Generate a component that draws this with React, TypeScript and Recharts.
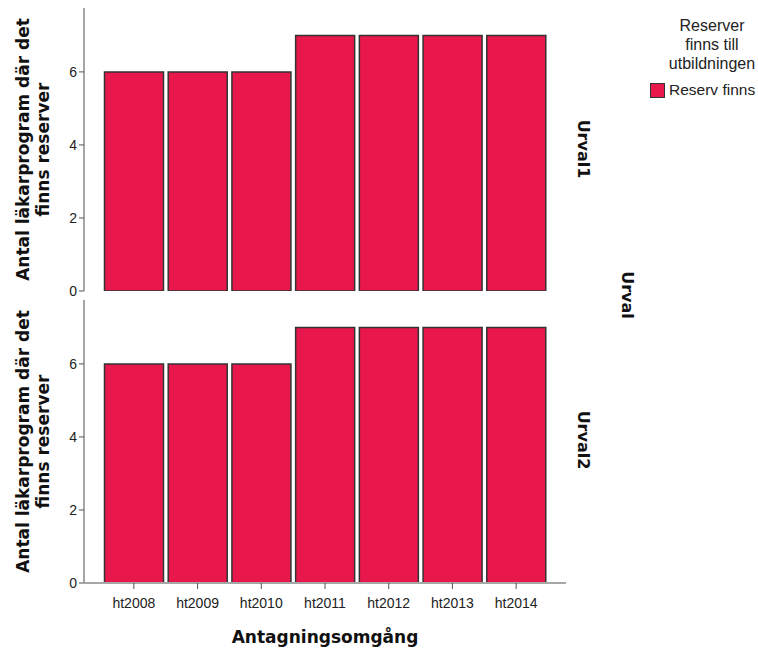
import { BarChart, Bar, XAxis, YAxis } from 'recharts';

const years = ['ht2008', 'ht2009', 'ht2010', 'ht2011', 'ht2012', 'ht2013', 'ht2014'];
const urval1 = [6, 6, 6, 7, 7, 7, 7];
const urval2 = [6, 6, 6, 7, 7, 7, 7];
const yTicks = [0, 2, 4, 6];
const panelNames = ['Urval1', 'Urval2'];

const BAR_FILL = '#E8174C';
const AXIS = '#a6a6a6';
const boldFont = '"DejaVu Sans", sans-serif';
const plainFont = '"Liberation Sans", Arial, sans-serif';

const toRows = (vals: number[]) => years.map((y, i) => ({ year: y, count: vals[i] }));

// two-line rotated y title
const YTitle = (props: any) => {
    const vb = props.viewBox;
    const cy = vb.y + vb.height / 2;
    return (
        <text
            transform={`rotate(-90, 0, ${cy})`}
            x={0}
            y={cy}
            textAnchor="middle"
            fontFamily={boldFont}
            fontWeight="bold"
            fontSize={17}
            fill="#111"
        >
            <tspan x={0} y={cy + 29}>Antal läkarprogram där det</tspan>
            <tspan x={0} y={cy + 49}>finns reserver</tspan>
        </text>
    );
};

function Panel({ vals, top, height, last }: { vals: number[]; top: number; height: number; last: boolean }) {
    return (
        <div style={{ position: 'absolute', left: 0, top }}>
            <BarChart
                width={758}
                height={height}
                data={toRows(vals)}
                margin={{ top: 8, right: 192, bottom: last ? 0 : 9, left: 0 }}
                barCategoryGap={2.5}
            >
                <XAxis
                    dataKey="year"
                    padding={{ left: 18, right: 18 }}
                    height={last ? 66 : 0}
                    tick={last ? { fontSize: 14, fill: '#222', fontFamily: plainFont } : false}
                    tickLine={last ? { stroke: '#555' } : false}
                    tickSize={6}
                    tickMargin={9}
                    axisLine={{ stroke: AXIS, strokeWidth: 2 }}
                    interval={0}
                    label={
                        last
                            ? {
                                  value: 'Antagningsomgång',
                                  position: 'insideBottom',
                                  offset: 6,
                                  fontSize: 17,
                                  fontWeight: 'bold',
                                  fontFamily: boldFont,
                                  fill: '#111',
                              }
                            : undefined
                    }
                />
                <YAxis
                    width={84}
                    domain={[0, 7.75]}
                    ticks={yTicks}
                    allowDataOverflow
                    tick={{ fontSize: 14, fill: '#222', fontFamily: plainFont }}
                    tickLine={{ stroke: '#555' }}
                    tickSize={5}
                    tickMargin={2}
                    axisLine={{ stroke: AXIS, strokeWidth: 2 }}
                    label={{ content: YTitle }}
                />
                <Bar dataKey="count" fill={BAR_FILL} stroke="#333" strokeWidth={1.5} isAnimationActive={false} />
            </BarChart>
        </div>
    );
}

export default function App() {
    return (
        <div style={{ position: 'absolute', left: 0, top: 0, width: 758, height: 649, background: '#fff' }}>
            <Panel vals={urval1} top={0} height={300} last={false} />
            <Panel vals={urval2} top={292} height={357} last={true} />

            <svg width={758} height={649} style={{ position: 'absolute', left: 0, top: 0, pointerEvents: 'none' }}>
                {panelNames.map((name, i) => (
                    <text
                        key={name}
                        transform={`rotate(90, 583, ${i === 0 ? 149 : 440})`}
                        x={583}
                        y={i === 0 ? 149 : 440}
                        textAnchor="middle"
                        dominantBaseline="central"
                        fontFamily={boldFont}
                        fontWeight="bold"
                        fontSize={16}
                        fill="#111"
                    >
                        {name}
                    </text>
                ))}
                <text
                    transform="rotate(90, 627, 295)"
                    x={627}
                    y={295}
                    textAnchor="middle"
                    dominantBaseline="central"
                    fontFamily={boldFont}
                    fontWeight="bold"
                    fontSize={16}
                    fill="#111"
                >
                    Urval
                </text>
            </svg>

            <div style={{ position: 'absolute', left: 650, top: 16, width: 124, fontFamily: plainFont, color: '#222' }}>
                <div style={{ textAlign: 'center', fontSize: 16, lineHeight: '19px', width: 124 }}>
                    Reserver<br />finns till<br />utbildningen
                </div>
                <div style={{ display: 'flex', alignItems: 'center', marginTop: 8, fontSize: 15.5 }}>
                    <span style={{ width: 13, height: 13, background: BAR_FILL, border: '1.5px solid #333', marginRight: 4 }} />
                    Reserv finns
                </div>
            </div>
        </div>
    );
}
